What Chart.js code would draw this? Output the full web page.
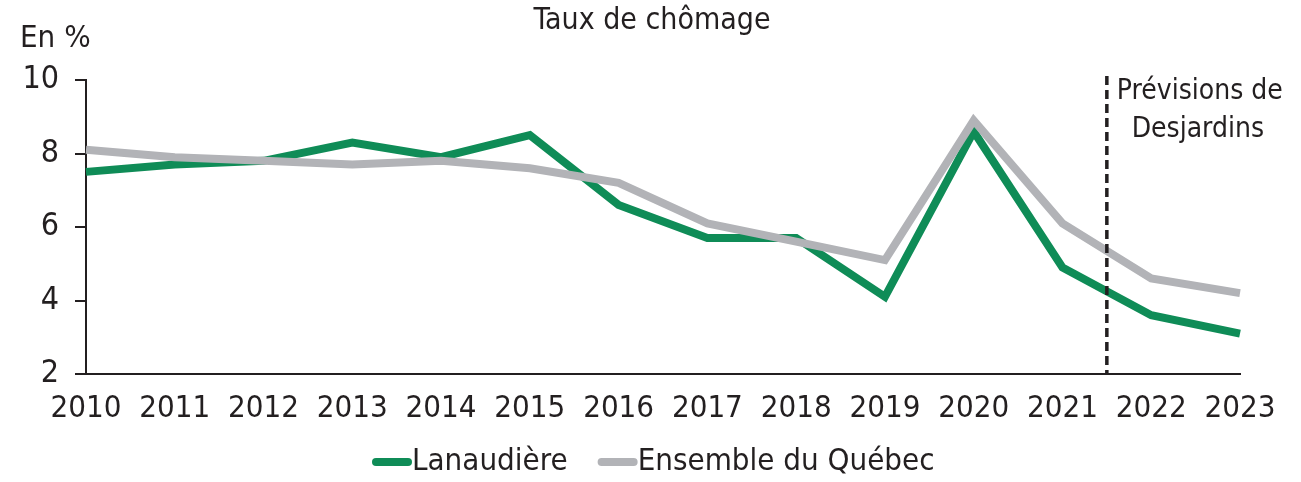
<!DOCTYPE html>
<html>
<head>
<meta charset="utf-8">
<script src="https://cdn.jsdelivr.net/npm/chart.js@4.4.1/dist/chart.umd.min.js"></script>
<style>
  html, body { margin: 0; padding: 0; background: #fff; }
  #wrap { width: 1301px; height: 482px; position: relative; }
</style>
</head>
<body>
<div id="wrap"><canvas id="chart"></canvas></div>
<script>
// Chart data
const years = ["2010", "2011", "2012", "2013", "2014", "2015", "2016",
  "2017", "2018", "2019", "2020", "2021", "2022", "2023"];
const lanaudiere = [7.5, 7.7, 7.8, 8.3, 7.9, 8.5, 6.6, 5.7, 5.7, 4.1, 8.6, 4.9, 3.6, 3.1];
const quebec = [8.1, 7.9, 7.8, 7.7, 7.8, 7.6, 7.2, 6.1, 5.6, 5.1, 8.9, 6.1, 4.6, 4.2];
const yTicks = [2, 4, 6, 8, 10];
const forecastAfter = "2021"; // dashed line sits halfway to the next year

const FONT = "'DejaVu Sans Condensed', 'Liberation Sans Narrow', sans-serif";
const INK = "#231f20";
const GREEN = "#0f8c57";
const GREY = "#b2b3b7";

// Extra text, dashed forecast line and legend
const decorations = {
  id: "decorations",
  afterDatasetsDraw(chart) {
    const ctx = chart.ctx;
    const x = chart.scales.x;
    const y = chart.scales.y;
    const idx = years.indexOf(forecastAfter) + 0.5;
    const px = x.getPixelForValue(idx);

    ctx.save();
    ctx.strokeStyle = INK;
    ctx.lineWidth = 3.5;
    ctx.setLineDash([9, 5]);
    ctx.beginPath();
    ctx.moveTo(px, y.top - 4);
    ctx.lineTo(px, y.bottom);
    ctx.stroke();
    ctx.setLineDash([]);

    ctx.fillStyle = INK;
    ctx.textAlign = "center";
    ctx.textBaseline = "middle";
    ctx.font = "28px " + FONT;
    ctx.fillText("Prévisions de", px + 93, 92);
    ctx.fillText("Desjardins", px + 91, 130);

    ctx.font = "30px " + FONT;
    ctx.fillText("Taux de chômage", 652, 21);
    ctx.textAlign = "left";
    ctx.font = "31px " + FONT;
    ctx.fillText("En %", 20, 39);

    // legend
    const items = [
      { label: "Lanaudière", color: GREEN },
      { label: "Ensemble du Québec", color: GREY }
    ];
    ctx.font = "31px " + FONT;
    const boxW = 40, gap = 30;
    let lx = 372;
    const ly = 462;
    items.forEach((it) => {
      ctx.strokeStyle = it.color;
      ctx.lineWidth = 8;
      ctx.lineCap = "round";
      ctx.beginPath();
      ctx.moveTo(lx + 4, ly);
      ctx.lineTo(lx + boxW - 4, ly);
      ctx.stroke();
      ctx.fillStyle = INK;
      ctx.fillText(it.label, lx + boxW, ly);
      lx += boxW + ctx.measureText(it.label).width + gap;
    });
    ctx.restore();
  }
};

new Chart(document.getElementById("chart"), {
  type: "line",
  data: {
    labels: years,
    datasets: [
      {
        label: "Lanaudière",
        data: lanaudiere,
        borderColor: GREEN,
        borderWidth: 8,
        order: 2
      },
      {
        label: "Ensemble du Québec",
        data: quebec,
        borderColor: GREY,
        borderWidth: 8,
        order: 1
      }
    ]
  },
  options: {
    responsive: true,
    maintainAspectRatio: false,
    animation: false,
    layout: { padding: { left: 0, top: 80, right: 61, bottom: 60 } },
    elements: {
      point: { radius: 0 },
      line: { tension: 0, borderJoinStyle: "miter", borderCapStyle: "butt", fill: false }
    },
    plugins: {
      legend: { display: false },
      tooltip: { enabled: false }
    },
    scales: {
      x: {
        offset: false,
        grid: { display: false, drawTicks: false },
        border: { display: true, color: INK, width: 2 },
        ticks: {
          color: INK,
          font: { family: FONT, size: 31 },
          padding: 16,
          maxRotation: 0,
          autoSkip: false
        },
        afterFit(s) { s.height = 48; }
      },
      y: {
        min: 2,
        max: 10,
        afterBuildTicks(s) { s.ticks = yTicks.map(v => ({ value: v })); },
        grid: { drawOnChartArea: false, drawTicks: true, tickLength: 11, color: INK, lineWidth: 2 },
        border: { display: true, color: INK, width: 2 },
        ticks: {
          color: INK,
          font: { family: FONT, size: 32 },
          padding: 16
        },
        afterFit(s) { s.width = 86; }
      }
    }
  },
  plugins: [decorations]
});
</script>
</body>
</html>
